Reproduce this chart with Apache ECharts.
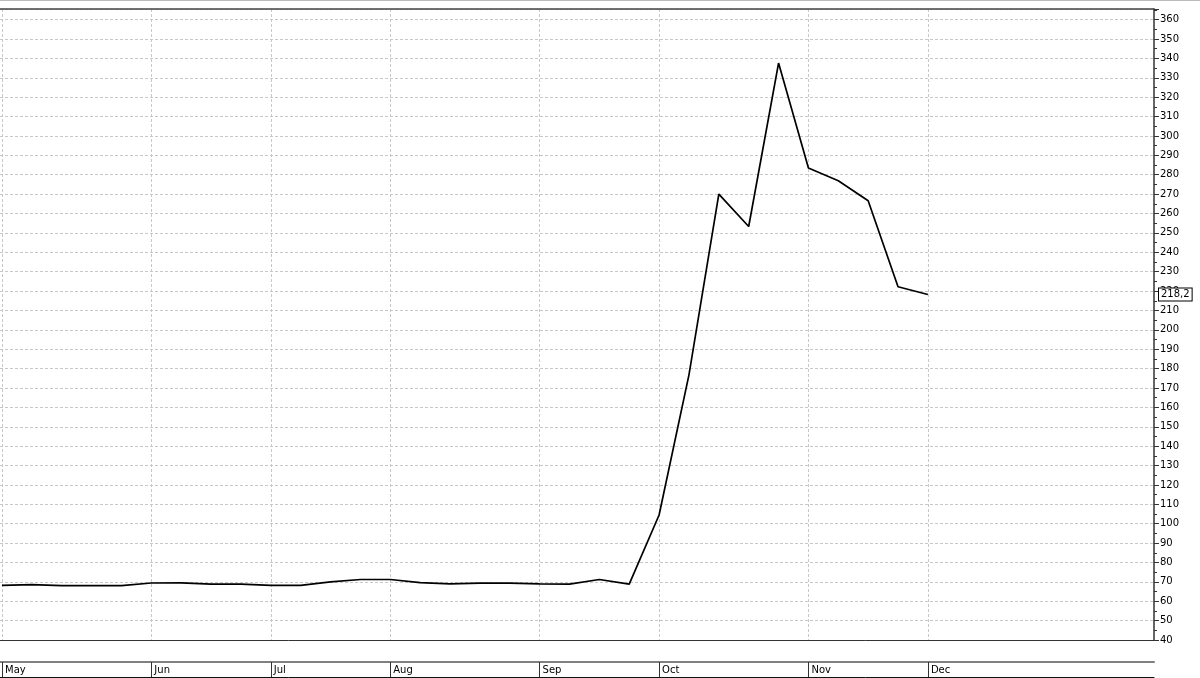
<!DOCTYPE html>
<html>
<head>
<meta charset="utf-8">
<script src="https://cdn.jsdelivr.net/npm/echarts@6/dist/echarts.min.js"></script>
<style>html,body{margin:0;padding:0;background:#fff}#c{width:1200px;height:678px}</style>
</head>
<body>
<div id="c"></div>
<script>
// weekly closing values, week 0 = first week of May
const values = [68.2, 68.6, 68.0, 68.0, 68.0, 69.4, 69.5, 68.8, 68.8, 68.2,
  68.2, 70.0, 71.2, 71.2, 69.6, 69.0, 69.3, 69.3, 69.0, 68.8,
  71.2, 68.8, 104.5, 176.8, 270.0, 253.3, 337.6, 283.5, 276.9, 266.6,
  222.2, 218.2];
const monthNames = ['May', 'Jun', 'Jul', 'Aug', 'Sep', 'Oct', 'Nov', 'Dec'];
const monthWeek = [0, 5, 9, 13, 18, 22, 27, 31];
const yMin = 40, yMax = 365.5, yStep = 10;
const xMin = -0.067, xMax = 38.57;

const seriesData = values.map((v, i) => [i, v]);
const lastValue = values[values.length - 1];
const font = 'DejaVu Sans';

const chart = echarts.init(document.getElementById('c'), null, {renderer: 'canvas'});
chart.setOption({
  animation: false,
  backgroundColor: '#fff',
  grid: [
    {left: 0, right: 46, top: 9, height: 631},
    {left: 0, right: 46, top: 662, height: 15}
  ],
  xAxis: [
    {
      gridIndex: 0, type: 'value', min: xMin, max: xMax, position: 'bottom',
      axisLine: {show: true, onZero: false, lineStyle: {color: '#333', width: 1}},
      axisTick: {show: false, customValues: monthWeek},
      axisLabel: {show: false, customValues: monthWeek},
      splitLine: {show: true, lineStyle: {color: '#c8c8c8', type: [3, 2], width: 1}}
    },
    {
      gridIndex: 0, type: 'value', min: xMin, max: xMax, position: 'top',
      axisLine: {show: true, onZero: false, lineStyle: {color: '#444', width: 1.5}},
      axisTick: {show: false}, axisLabel: {show: false}, splitLine: {show: false}
    },
    {
      gridIndex: 1, type: 'value', min: xMin, max: xMax, position: 'bottom',
      axisLine: {show: true, onZero: false, lineStyle: {color: '#111', width: 1}},
      axisTick: {show: true, inside: true, length: 15, customValues: monthWeek,
        lineStyle: {color: '#333', width: 1}},
      axisLabel: {show: true, inside: true, customValues: monthWeek, margin: 2,
        align: 'left', padding: [0, 0, 0, 3], color: '#000', fontFamily: font, fontSize: 10,
        formatter: v => monthNames[monthWeek.indexOf(Math.round(v))] || ''},
      splitLine: {show: false}
    },
    {
      gridIndex: 1, type: 'value', min: xMin, max: xMax, position: 'top',
      axisLine: {show: true, onZero: false, lineStyle: {color: '#808080', width: 2}},
      axisTick: {show: false}, axisLabel: {show: false}, splitLine: {show: false}
    }
  ],
  yAxis: [
    {
      gridIndex: 0, type: 'value', position: 'right', min: yMin, max: yMax, interval: yStep,
      axisLine: {show: true, onZero: false, lineStyle: {color: '#333', width: 1.5}},
      axisTick: {show: true, length: 5, lineStyle: {color: '#333'}},
      minorTick: {show: true, splitNumber: 2, length: 3, lineStyle: {color: '#333'}},
      axisLabel: {show: true, margin: 6, color: '#000', fontFamily: font, fontSize: 10,
        showMaxLabel: false},
      splitLine: {show: true, lineStyle: {color: '#c8c8c8', type: [3, 2], width: 1}}
    },
    {
      gridIndex: 1, type: 'value', min: 0, max: 1, show: false
    }
  ],
  graphic: [
    {type: 'line', shape: {x1: 0, y1: 0.5, x2: 1200, y2: 0.5}, style: {stroke: '#bbb', lineWidth: 1}}
  ],
  series: [
    {
      type: 'line', xAxisIndex: 0, yAxisIndex: 0, data: seriesData,
      symbol: 'none', lineStyle: {color: '#000', width: 1.7},
      markLine: {
        silent: true, symbol: 'none',
        lineStyle: {color: 'rgba(0,0,0,0)', width: 0},
        label: {
          show: true, position: 'end', distance: 5,
          formatter: () => String(lastValue).replace('.', ','),
          color: '#000', fontFamily: font, fontSize: 10,
          backgroundColor: '#fff', borderColor: '#000', borderWidth: 1,
          padding: [1, 2, 1, 2]
        },
        data: [{yAxis: lastValue}]
      }
    }
  ]
});
</script>
</body>
</html>
